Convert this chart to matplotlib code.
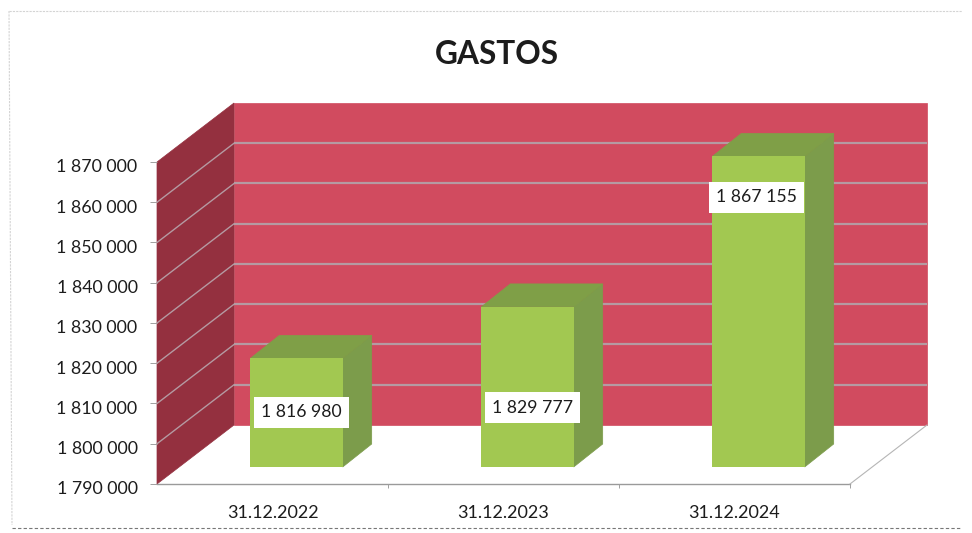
import matplotlib
matplotlib.use("Agg")
import matplotlib.pyplot as plt
from matplotlib.patches import Polygon
from matplotlib.transforms import Affine2D

# ---- data ----
dates = ["31.12.2022", "31.12.2023", "31.12.2024"]
gastos = [1816980, 1829777, 1867155]
y_ticks = [1790000, 1800000, 1810000, 1820000, 1830000, 1840000, 1850000, 1860000, 1870000]
title = "GASTOS"

# ---- style ----
W, H = 972, 533
DEPTH = (77, -59)          # wall depth in px (x, y with y pointing down)
BAR_SHIFT = (24, -17)      # front of bars relative to front plane
BAR_SIDE = (29, -23)       # bar depth
BAR_W = 0.40
LABEL_DROP = [54, 101, 41]  # px from bar top to centre of value label
LABEL_DX = [5, 5, -2]       # px from bar centre to centre of value label
C_WALL, C_SIDE, C_GRID = "#d14b5f", "#94303f", "#b59aa2"
C_FRONT, C_BSIDE, C_BTOP = "#a2c851", "#7c9c4b", "#7f9f47"
C_TEXT = "#1c1c1c"

plt.rcParams["font.family"] = ["Lato", "DejaVu Sans"]
fig = plt.figure(figsize=(W / 100, H / 100), dpi=100, facecolor="white")
ax = fig.add_axes([157 / W, (H - 484) / H, 693 / W, 322 / H])
ax.set_xlim(-0.5, 2.5)
ax.set_ylim(y_ticks[0], y_ticks[-1])
ax.patch.set_visible(False)
for s in ax.spines.values():
    s.set_visible(False)


def shifted(dx, dy):
    """Data transform moved by dx, dy screen pixels (dy down)."""
    return ax.transData + Affine2D().translate(dx, -dy)


def poly(pts, color, z, tr=None, **kw):
    ax.add_patch(Polygon(pts, closed=True, facecolor=color, edgecolor=kw.pop("ec", color),
                         linewidth=kw.pop("lw", 0.5), zorder=z,
                         transform=tr or ax.transData, clip_on=False, **kw))


x0, x1 = ax.get_xlim()
y0, y1 = ax.get_ylim()
back = shifted(*DEPTH)

# back wall
poly([(x0, y0), (x1, y0), (x1, y1), (x0, y1)], C_WALL, 1, back)
# side wall: front edge in data coordinates, back edge via depth in data units
px_x = (x1 - x0) / 693
px_y = (y1 - y0) / 322
dx_d, dy_d = DEPTH[0] * px_x, -DEPTH[1] * px_y
poly([(x0, y0), (x0 + dx_d, y0 + dy_d), (x0 + dx_d, y1 + dy_d), (x0, y1)], C_SIDE, 1)

# grid on both walls
for t in y_ticks[1:-1]:
    ax.plot([x0, x1], [t, t], color=C_GRID, lw=1.6, transform=back, zorder=2, clip_on=False,
            solid_capstyle="butt")
    ax.plot([x0, x0 + dx_d], [t, t + dy_d], color=C_GRID, lw=1.0, zorder=2, clip_on=False)

# floor edges
ax.plot([x0, x1], [y0, y0], color="#9a9a9a", lw=1.0, zorder=2, clip_on=False)
ax.plot([x1, x1 + dx_d], [y0, y0 + dy_d], color="#b5b5b5", lw=0.8, zorder=2, clip_on=False)

# bars
for i, v in enumerate(gastos):
    l, r = i - BAR_W / 2, i + BAR_W / 2
    tr = shifted(*BAR_SHIFT)
    sx, sy = BAR_SIDE[0] * px_x, -BAR_SIDE[1] * px_y
    ax.bar(i, v - y0, bottom=y0, width=BAR_W, color=C_FRONT, transform=tr, zorder=5, clip_on=False)
    poly([(r, y0), (r + sx, y0 + sy), (r + sx, v + sy), (r, v)], C_BSIDE, 4, tr)
    poly([(l, v), (r, v), (r + sx, v + sy), (l + sx, v + sy)], C_BTOP, 4, tr)
    ax.text(i, v - LABEL_DROP[i] * px_y, f"{v:,}".replace(",", " "),
            transform=shifted(BAR_SHIFT[0] + LABEL_DX[i], BAR_SHIFT[1]),
            ha="center", va="center", fontsize=12.7, color=C_TEXT, zorder=7, clip_on=False,
            bbox=dict(boxstyle="square,pad=0.42", facecolor="white", edgecolor="none"))

# axes ticks and labels
ax.set_yticks(y_ticks)
ax.set_yticklabels([f"{t:,}".replace(",", " ") for t in y_ticks], fontsize=12.8, color=C_TEXT)
ax.tick_params(axis="y", length=5, width=0.7, color="#a0a0a0", pad=9)
ytext_shift = Affine2D().translate(0, -4)
for lab in ax.get_yticklabels():
    lab.set_transform(lab.get_transform() + ytext_shift)
ax.set_xticks([0, 1, 2])
ax.set_xticklabels(dates, fontsize=13, color=C_TEXT)
ax.tick_params(axis="x", length=0, pad=15)
ax.vlines([0.5, 1.5, 2.5], y0 - 4 * px_y, y0, color="#a0a0a0", lw=0.7, clip_on=False, zorder=2)

fig.text(497 / W, 1 - 54 / H, title, ha="center", va="center", fontsize=22.8, fontweight="bold", color=C_TEXT)

# scanned frame of the chart
frame = dict(color="#d4d4d4", lw=0.8, ls=(0, (2, 1)))
fig.add_artist(plt.Line2D([9 / W, 962 / W], [1 - 11 / H, 1 - 11 / H], **frame))
fig.add_artist(plt.Line2D([9 / W, 12 / W], [1 - 11 / H, 1 - 525 / H], **frame))
fig.add_artist(plt.Line2D([12 / W, 960 / W], [1 - 528 / H, 1 - 528 / H], color="#777777", lw=0.8, ls=(0, (3, 2))))

fig.savefig("out.png", dpi=100, facecolor="white")
